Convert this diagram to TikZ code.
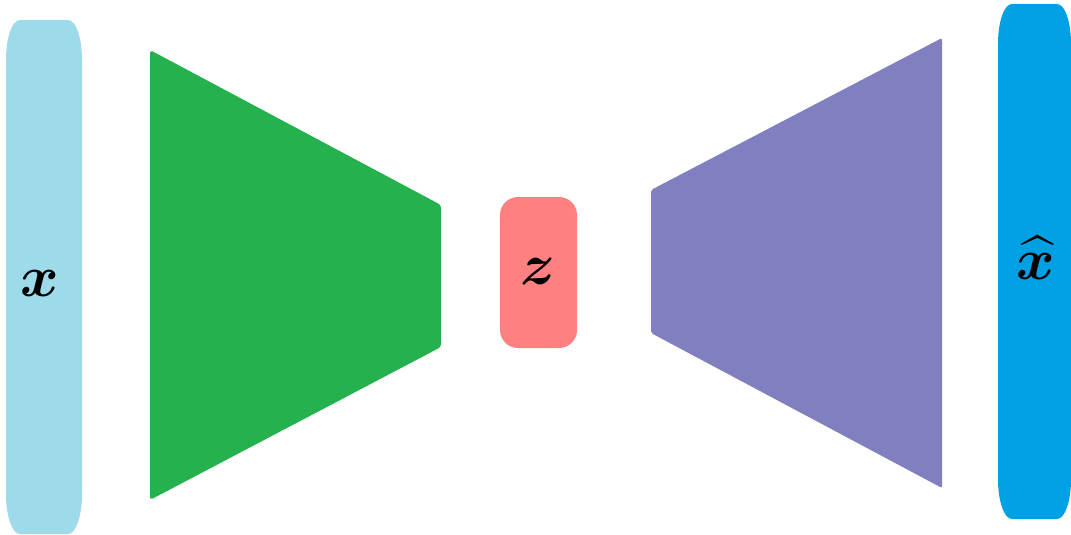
\documentclass[tikz,border=0pt]{standalone}
\usepackage{amsmath}
\usepackage{bm}
\usepackage{graphicx}
\definecolor{cin}{HTML}{9DDAEA}
\definecolor{cenc}{HTML}{25B14E}
\definecolor{cz}{HTML}{FF8080}
\definecolor{cdec}{HTML}{8080C0}
\definecolor{cout}{HTML}{00A0E4}
\newcommand{\biglbl}[1]{\scalebox{2.35}{\Huge #1}}
% #1 colour, #2 x1, #3 y1 (top), #4 x2, #5 y2 (bottom)
\newcommand{\roundbar}[5]{%
  \fill[#1] ({#2},{#3+40}) .. controls ({#2},{#3+18}) and ({#2+6},{#3}) .. ({#2+14},{#3})
    -- ({#4-14},{#3}) .. controls ({#4-6},{#3}) and ({#4},{#3+18}) .. ({#4},{#3+40})
    -- ({#4},{#5-40}) .. controls ({#4},{#5-18}) and ({#4-6},{#5}) .. ({#4-14},{#5})
    -- ({#2+14},{#5}) .. controls ({#2+6},{#5}) and ({#2},{#5-18}) .. ({#2},{#5-40}) -- cycle;}
\tikzset{
  lbl/.style={inner sep=0pt},
}
\begin{document}
\begin{tikzpicture}[x=1pt,y=-1pt]
\useasboundingbox (0,0) rectangle (1071,535);
% input bar
\roundbar{cin}{6}{20}{82}{534}
% encoder
\fill[cenc, rounded corners=3pt] (150,50) -- (441,205) -- (441,347) -- (150,500) -- cycle;
% latent
\fill[cz, rounded corners=18pt] (500,197) rectangle (577,348);
% decoder
\fill[cdec, rounded corners=2pt] (651,190) -- (942,38) -- (942,488) -- (651,333) -- cycle;
% output bar
\roundbar{cout}{998}{4}{1071}{519}
% labels
\node[lbl] (x) at (40,284) {\biglbl{$\bm{x}$}};
\node[lbl] (z) at (538,272) {\biglbl{$\bm{z}$}};
\node[lbl] (xh) at (1036,258) {\biglbl{$\widehat{\bm{x}}$}};
\end{tikzpicture}
\end{document}
